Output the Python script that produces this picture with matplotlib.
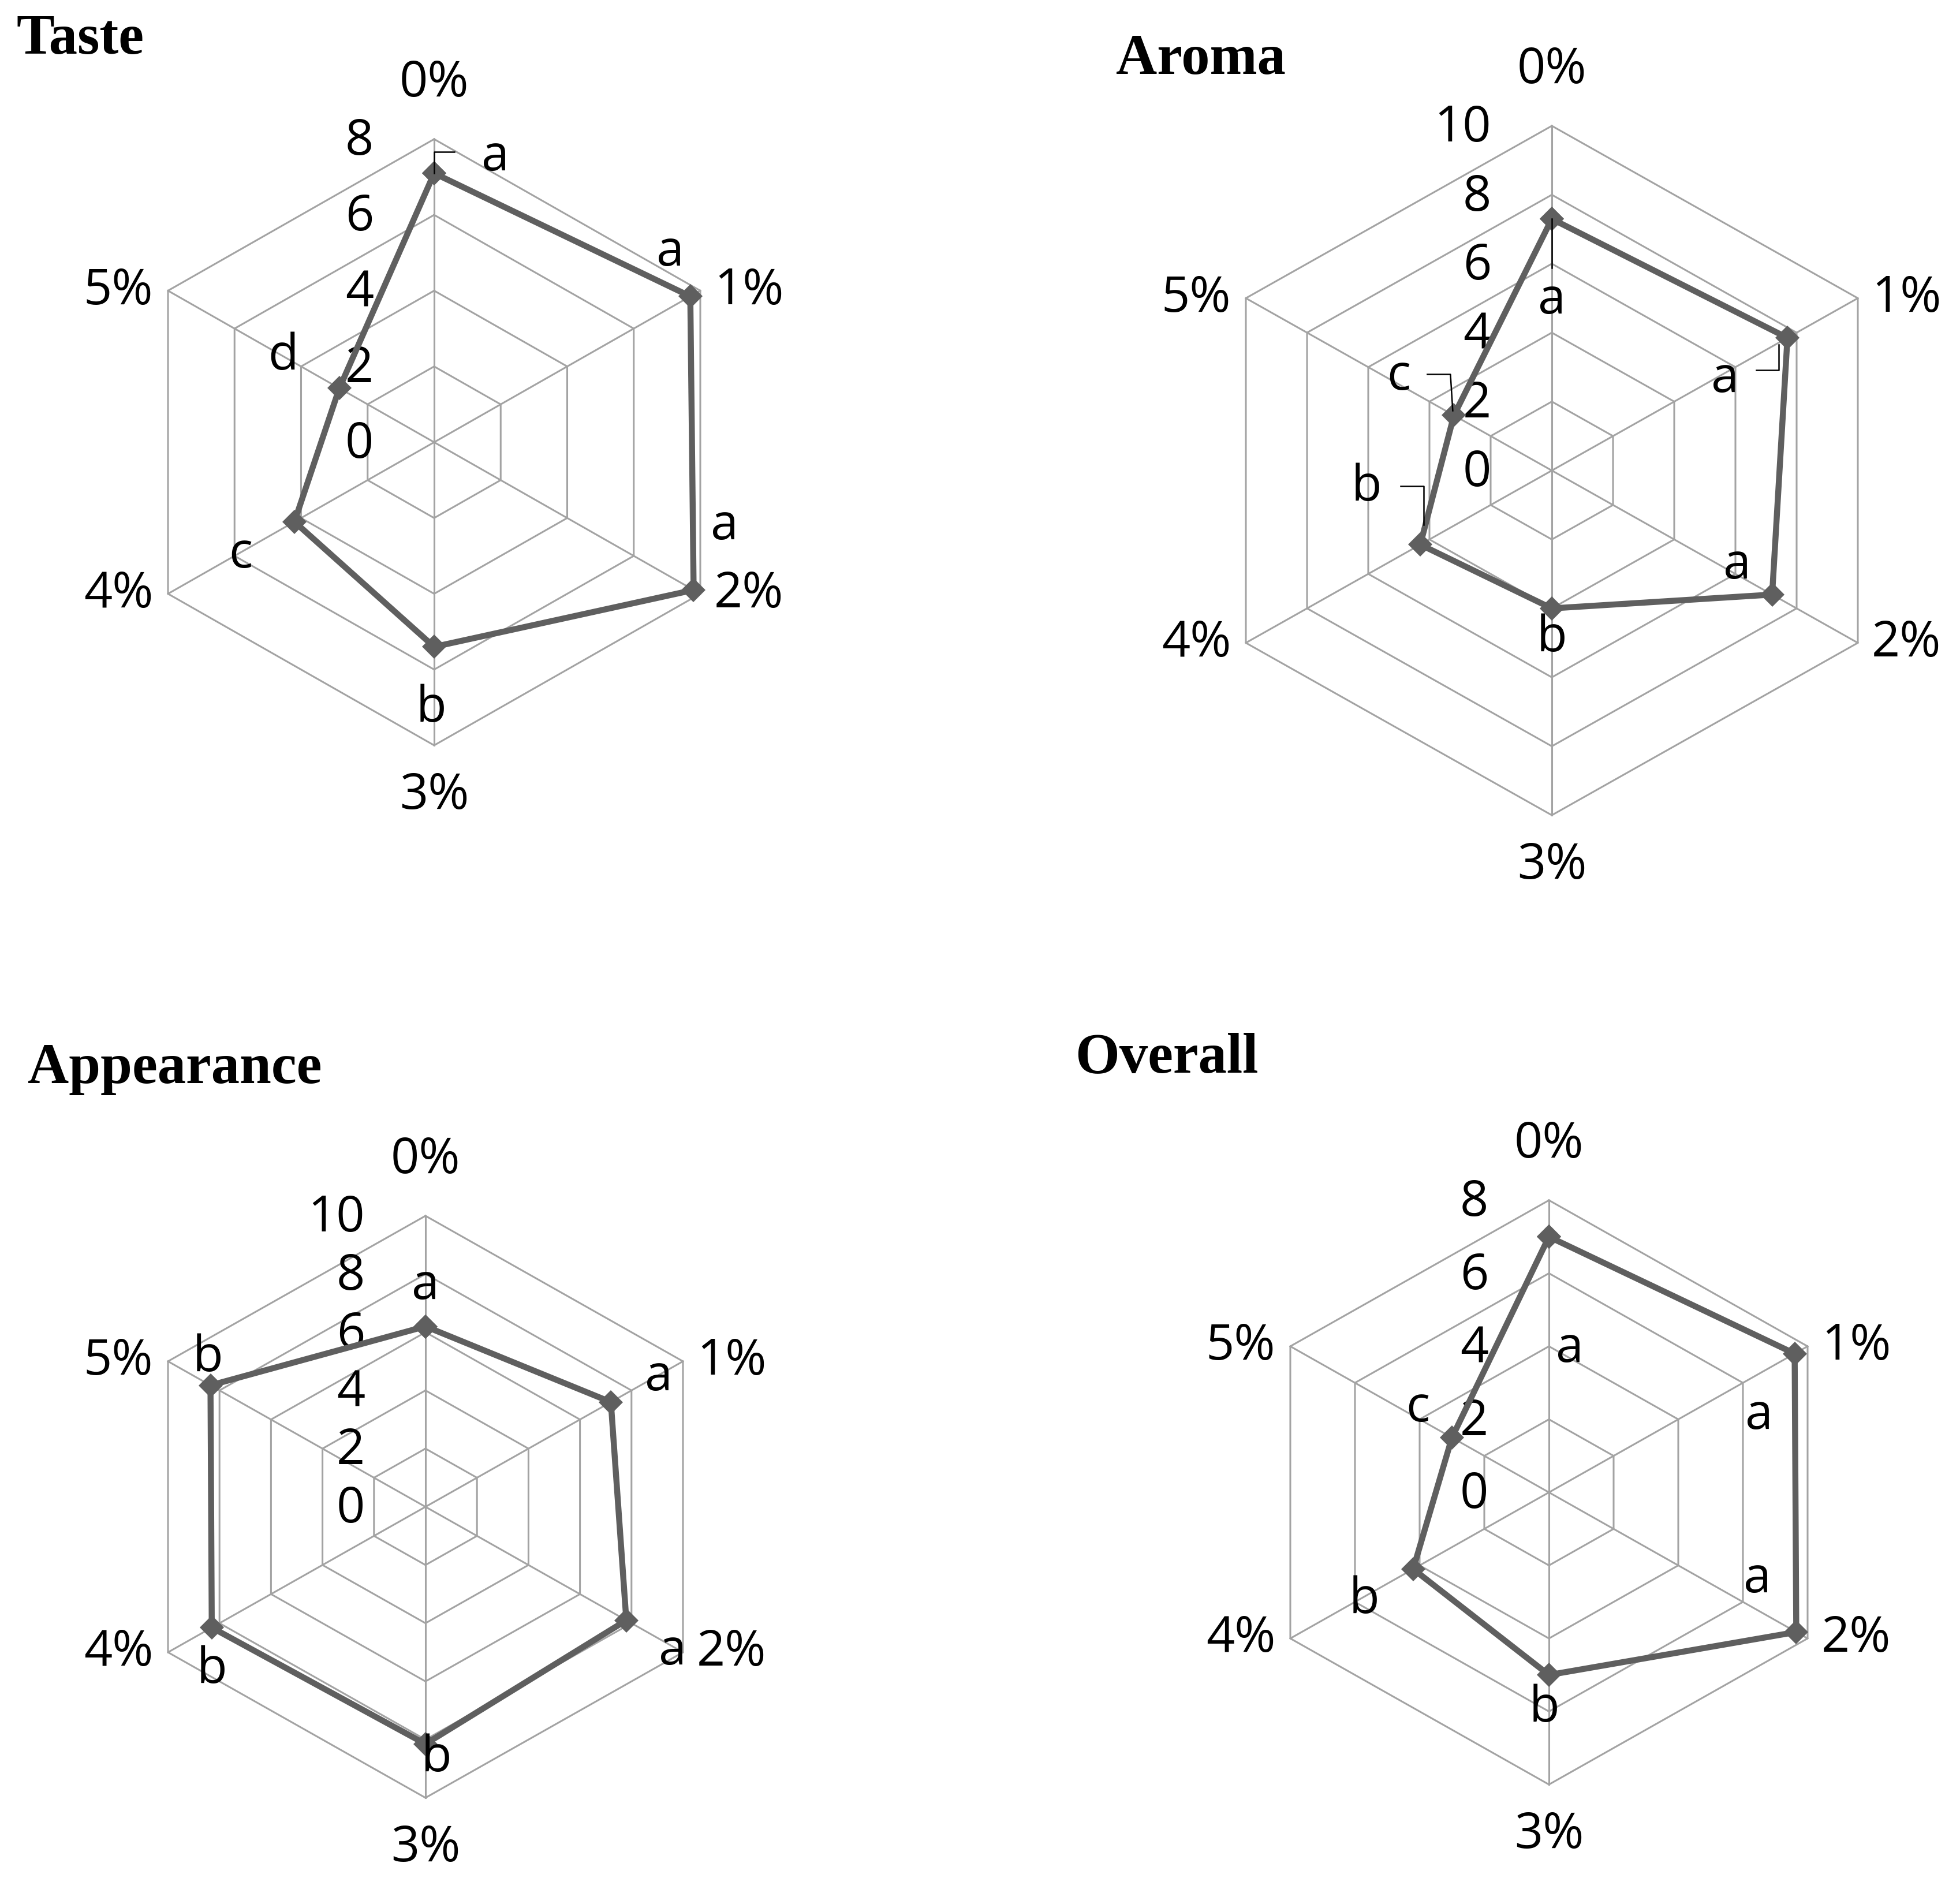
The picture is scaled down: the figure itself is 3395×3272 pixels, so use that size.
import numpy as np
import matplotlib
matplotlib.use("Agg")
import matplotlib.pyplot as plt

# data
categories = ['0%', '1%', '2%', '3%', '4%', '5%']
taste = [7.1, 7.7, 7.8, 5.4, 4.2, 2.85]
aroma = [7.3, 7.7, 7.2, 4.0, 4.3, 3.2]
appearance = [6.2, 7.2, 7.8, 8.15, 8.3, 8.35]
overall = [7.0, 7.6, 7.65, 5.0, 4.2, 3.0]

taste_letters = ['a', 'a', 'a', 'b', 'c', 'd']
aroma_letters = ['a', 'a', 'a', 'b', 'b', 'c']
appearance_letters = ['a', 'a', 'a', 'b', 'b', 'b']
overall_letters = ['a', 'a', 'a', 'b', 'b', 'c']

taste_max = 8
aroma_max = 10
appearance_max = 10
overall_max = 8

W, H = 3395, 3273
LINE = '#5f5f5f'
GRID = '#a3a3a3'
LABEL_FONT = ['Open Sans', 'DejaVu Sans']
FS = 62

fig = plt.figure(figsize=(W / 100, H / 100), dpi=100)


def radar(title, title_pos, center, R, hx, vmax, values, letters, letter_off, leaders):
    cx, cy = center
    ax = fig.add_axes([(cx - hx) / W, 1 - (cy + R) / H, 2 * hx / W, 2 * R / H])
    c30 = np.cos(np.pi / 6)
    ax.set_xlim(-vmax * c30, vmax * c30)
    ax.set_ylim(-vmax, vmax)
    ax.axis('off')
    ppx = hx / (vmax * c30)
    ppy = R / vmax

    n = len(categories)
    ang = np.arange(n) * 2 * np.pi / n
    sx, sy = np.sin(ang), np.cos(ang)

    # hexagonal grid
    for r in range(2, vmax + 1, 2):
        ax.plot(np.append(r * sx, r * sx[0]), np.append(r * sy, r * sy[0]),
                color=GRID, lw=2.2, clip_on=False, zorder=1)
    for i in range(n):
        ax.plot([0, vmax * sx[i]], [0, vmax * sy[i]], color=GRID, lw=2.2,
                clip_on=False, zorder=1)

    # ring labels left of the top spoke
    for r in range(0, vmax + 1, 2):
        ax.annotate(str(r), (0, r), xytext=(-105, -4), textcoords='offset pixels',
                    ha='right', va='center', fontsize=FS, family=LABEL_FONT)

    # category labels
    for i, cat in enumerate(categories):
        x, y = vmax * sx[i], vmax * sy[i]
        if i == 0:
            off, ha = (0, 97), 'center'
        elif i == 3:
            off, ha = (0, -87), 'center'
        elif sx[i] > 0:
            off, ha = (24, 0), 'left'
        else:
            off, ha = (-26, 0), 'right'
        ax.annotate(cat, (x, y), xytext=off, textcoords='offset pixels',
                    ha=ha, va='center', fontsize=FS, family=LABEL_FONT)

    v = np.array(values)
    px, py = v * sx, v * sy
    ax.plot(np.append(px, px[0]), np.append(py, py[0]), color=LINE, lw=7.5,
            marker='D', ms=21, mew=0, clip_on=False, zorder=3)

    for i, let in enumerate(letters):
        ax.annotate(let, (px[i], py[i]), xytext=letter_off[i], textcoords='offset pixels',
                    ha='center', va='center', fontsize=FS, family=LABEL_FONT, zorder=4)

    for i, pts in leaders:
        lx = [px[i] + p[0] / ppx for p in pts]
        ly = [py[i] + p[1] / ppy for p in pts]
        ax.plot(lx, ly, color='black', lw=1.8, clip_on=False, zorder=4)

    fig.text(title_pos[0] / W, 1 - title_pos[1] / H, title, fontsize=71,
             fontweight='bold', family='Liberation Serif', ha='left', va='baseline')


radar('Taste', (28, 93), (752, 767), 525, 461, taste_max, taste, taste_letters,
      [(106, 28), (-35, 77), (53, 111), (-5, -106), (-93, -56), (-97, 56)],
      [(0, [(0, 0), (0, 37), (35, 37)])])

radar('Aroma', (1933, 128), (2688, 816), 597, 530, aroma_max, aroma, aroma_letters,
      [(0, -141), (-108, -71), (-61, 51), (0, -51), (-93, 100), (-96, 68)],
      [(0, [(0, 0), (0, -85)]),
       (1, [(-54, -56), (-15, -56), (-15, -12)]),
       (4, [(-34, 101), (6, 101), (6, 34)]),
       (5, [(-46, 71), (-6, 71), (-2, 8)])])

radar('Appearance', (48, 1876), (737, 2611), 504, 446, appearance_max, appearance,
      appearance_letters,
      [(0, 71), (83, 44), (80, -53), (19, -24), (0, -73), (-5, 48)], [])

radar('Overall', (1862, 1857), (2683, 2586), 506, 448, overall_max, overall, overall_letters,
      [(36, -194), (-62, -107), (-67, 92), (-8, -58), (-85, -53), (-59, 51)], [])

fig.savefig('out.png', dpi=100)
